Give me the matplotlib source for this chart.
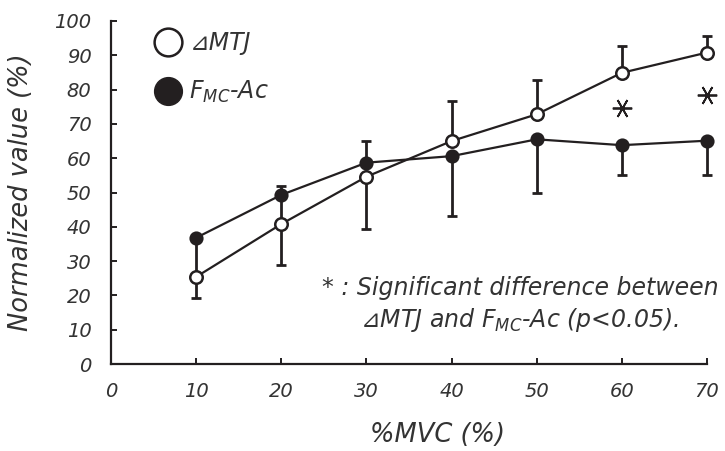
import matplotlib
matplotlib.use("Agg")
import matplotlib.pyplot as plt
from matplotlib.lines import Line2D

plt.rcParams['font.family'] = ['DejaVu Sans']
plt.rcParams['font.style'] = 'oblique'
plt.rcParams['mathtext.fontset'] = 'dejavusans'
plt.rcParams['mathtext.default'] = 'it'

# ---- data ----
mvc = [10, 20, 30, 40, 50, 60, 70]
mtj = [25.4, 40.8, 54.6, 65.0, 72.8, 84.9, 90.8]
mtj_err_lo = [6.2, 11.9, 15.2, 0, 0, 0, 0]
mtj_err_hi = [0, 0, 0, 11.7, 10.0, 7.8, 4.9]
fmc = [36.8, 49.3, 58.7, 60.6, 65.5, 63.8, 65.1]
fmc_err_lo = [11.4, 8.5, 0, 17.4, 15.6, 8.7, 10.0]
fmc_err_hi = [0, 2.6, 6.3, 0, 0, 0, 0]
sig_x = [60, 70]
sig_y = [74.6, 78.4]
xticks = [0, 10, 20, 30, 40, 50, 60, 70]
yticks = [0, 10, 20, 30, 40, 50, 60, 70, 80, 90, 100]

INK = '#231f20'
TXT = '#333333'

fig = plt.figure(figsize=(7.25, 4.51), dpi=100)
ax = fig.add_axes([111/725, 1-364/451, 596/725, 343/451])

ax.errorbar(mvc, fmc, yerr=[fmc_err_lo, fmc_err_hi], fmt='none', ecolor=INK,
            elinewidth=2.0, capsize=3.6, capthick=2.0, zorder=2, clip_on=False)
ax.errorbar(mvc, mtj, yerr=[mtj_err_lo, mtj_err_hi], fmt='none', ecolor=INK,
            elinewidth=2.0, capsize=3.6, capthick=2.0, zorder=2, clip_on=False)
ax.plot(mvc, fmc, '-', color=INK, lw=1.6, marker='o', ms=9, mfc=INK, mec=INK,
        mew=1.2, zorder=3, clip_on=False)
ax.plot(mvc, mtj, '-', color=INK, lw=1.6, marker='o', ms=9, mfc='white', mec=INK,
        mew=1.8, zorder=4, clip_on=False)

ax.plot(sig_x, sig_y, linestyle='none', marker=(6, 2, 90), ms=14, mew=1.3,
        color=INK, clip_on=False, zorder=5)

ax.set_xlim(0, 70)
ax.set_ylim(0, 100)
ax.set_xticks(xticks)
ax.set_yticks(yticks)
ax.set_xticklabels([str(v) for v in xticks])
ax.set_yticklabels([str(v) for v in yticks])
for s in ['top', 'right']:
    ax.spines[s].set_visible(False)
for s in ['left', 'bottom']:
    ax.spines[s].set_color(INK)
    ax.spines[s].set_linewidth(1.6)
ax.tick_params(direction='in', length=4, width=1.4, color=INK,
               labelsize=14, labelcolor=TXT)
ax.tick_params(axis='y', pad=14)
ax.tick_params(axis='x', pad=13)

ax.set_ylabel('Normalized value (%)', fontsize=18.5, color=TXT, labelpad=15)
ax.set_xlabel('%MVC (%)', fontsize=18.5, color=TXT, labelpad=15)
ax.xaxis.label.set_x(0.547)

handles = [
    Line2D([], [], linestyle='none', marker='o', ms=20, mfc='white', mec=INK, mew=1.8),
    Line2D([], [], linestyle='none', marker='o', ms=20, mfc=INK, mec=INK),
]
labels = ['⊿MTJ', r'F$_{MC}$-Ac']
leg = ax.legend(handles, labels, loc='upper left', bbox_to_anchor=(0.035, 1.032),
                frameon=False, fontsize=17, labelspacing=1.0, handletextpad=0.24,
                handlelength=1.3, labelcolor=TXT)

ax.text(0.686, 0.172, '* : Significant difference between\n'
        r'⊿MTJ and F$_{MC}$-Ac ($p$<0.05).',
        transform=ax.transAxes, ha='center', va='center', fontsize=17,
        color=TXT, linespacing=1.25)

fig.savefig('out.png', dpi=100)
